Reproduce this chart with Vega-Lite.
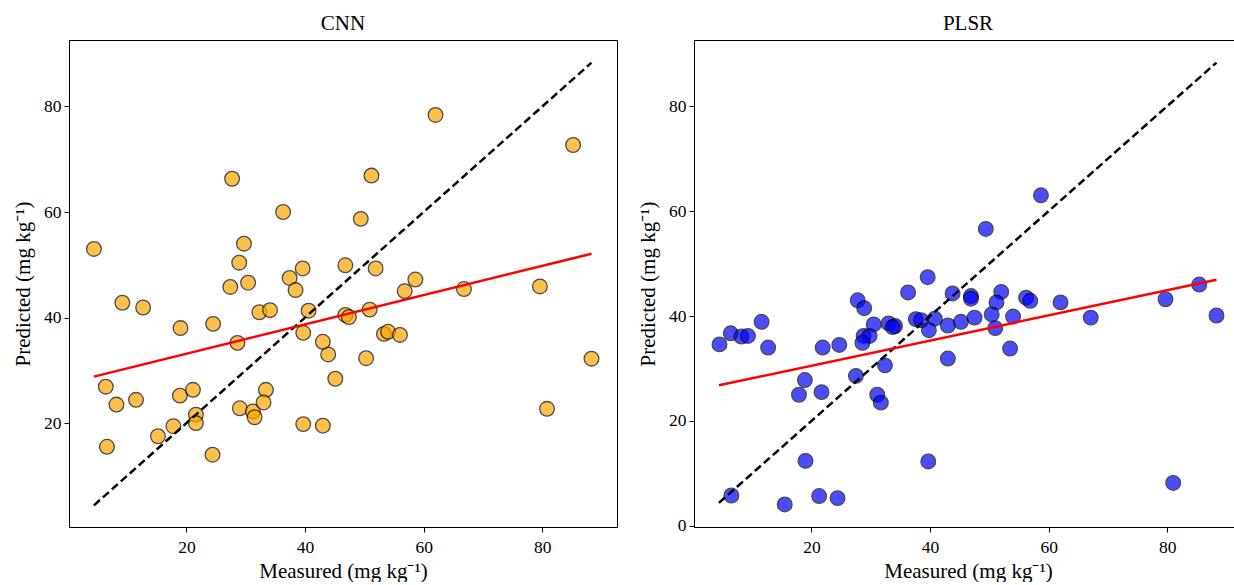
{
  "$schema": "https://vega.github.io/schema/vega-lite/v6.json",
  "padding": {"left": 12, "top": 12, "right": 0, "bottom": 0},
  "background": "white",
  "config": {
    "font": "Liberation Serif",
    "axis": {"labelFont": "Liberation Serif", "labelFontSize": 17.5, "labelColor": "black", "titleFont": "Liberation Serif", "titleFontSize": 21, "titleFontWeight": "normal", "titleColor": "black", "domainColor": "black", "tickColor": "black", "tickSize": 5, "grid": false, "labelPadding": 3, "titlePadding": 6},
    "axisX": {"labelPadding": 6, "titlePadding": 5},
    "view": {"stroke": "black", "strokeWidth": 1},
    "title": {"font": "Liberation Serif", "fontSize": 21, "fontWeight": "normal", "color": "black", "offset": 6},
    "concat": {"spacing": 77}
  },
  "bounds": "flush",
  "datasets": {
    "pts": [
      {"model": "CNN", "measured": 4.4, "predicted": 53.0},
      {"model": "CNN", "measured": 27.7, "predicted": 66.3},
      {"model": "CNN", "measured": 36.3, "predicted": 60.0},
      {"model": "CNN", "measured": 29.7, "predicted": 54.0},
      {"model": "CNN", "measured": 28.9, "predicted": 50.4},
      {"model": "CNN", "measured": 39.6, "predicted": 49.3},
      {"model": "CNN", "measured": 37.4, "predicted": 47.5},
      {"model": "CNN", "measured": 30.4, "predicted": 46.6},
      {"model": "CNN", "measured": 27.4, "predicted": 45.8},
      {"model": "CNN", "measured": 38.4, "predicted": 45.2},
      {"model": "CNN", "measured": 46.8, "predicted": 49.9},
      {"model": "CNN", "measured": 62.0, "predicted": 78.4},
      {"model": "CNN", "measured": 85.2, "predicted": 72.7},
      {"model": "CNN", "measured": 51.2, "predicted": 66.9},
      {"model": "CNN", "measured": 49.4, "predicted": 58.7},
      {"model": "CNN", "measured": 51.9, "predicted": 49.3},
      {"model": "CNN", "measured": 58.6, "predicted": 47.2},
      {"model": "CNN", "measured": 56.8, "predicted": 45.0},
      {"model": "CNN", "measured": 66.8, "predicted": 45.4},
      {"model": "CNN", "measured": 79.6, "predicted": 45.9},
      {"model": "CNN", "measured": 46.8, "predicted": 40.5},
      {"model": "CNN", "measured": 47.4, "predicted": 40.1},
      {"model": "CNN", "measured": 50.9, "predicted": 41.5},
      {"model": "CNN", "measured": 53.3, "predicted": 36.9},
      {"model": "CNN", "measured": 54.0, "predicted": 37.3},
      {"model": "CNN", "measured": 56.0, "predicted": 36.7},
      {"model": "CNN", "measured": 43.9, "predicted": 33.0},
      {"model": "CNN", "measured": 50.3, "predicted": 32.3},
      {"model": "CNN", "measured": 45.1, "predicted": 28.4},
      {"model": "CNN", "measured": 88.3, "predicted": 32.2},
      {"model": "CNN", "measured": 80.8, "predicted": 22.7},
      {"model": "CNN", "measured": 9.2, "predicted": 42.8},
      {"model": "CNN", "measured": 12.7, "predicted": 41.9},
      {"model": "CNN", "measured": 32.3, "predicted": 41.0},
      {"model": "CNN", "measured": 34.1, "predicted": 41.4},
      {"model": "CNN", "measured": 40.6, "predicted": 41.3},
      {"model": "CNN", "measured": 19.0, "predicted": 38.0},
      {"model": "CNN", "measured": 24.5, "predicted": 38.8},
      {"model": "CNN", "measured": 28.6, "predicted": 35.2},
      {"model": "CNN", "measured": 39.7, "predicted": 37.1},
      {"model": "CNN", "measured": 43.0, "predicted": 35.4},
      {"model": "CNN", "measured": 6.4, "predicted": 26.9},
      {"model": "CNN", "measured": 8.2, "predicted": 23.5},
      {"model": "CNN", "measured": 11.5, "predicted": 24.4},
      {"model": "CNN", "measured": 18.9, "predicted": 25.2},
      {"model": "CNN", "measured": 21.1, "predicted": 26.3},
      {"model": "CNN", "measured": 21.6, "predicted": 21.6},
      {"model": "CNN", "measured": 21.6, "predicted": 20.0},
      {"model": "CNN", "measured": 17.8, "predicted": 19.4},
      {"model": "CNN", "measured": 15.2, "predicted": 17.5},
      {"model": "CNN", "measured": 6.6, "predicted": 15.5},
      {"model": "CNN", "measured": 24.4, "predicted": 14.0},
      {"model": "CNN", "measured": 29.0, "predicted": 22.8},
      {"model": "CNN", "measured": 31.2, "predicted": 22.2},
      {"model": "CNN", "measured": 31.5, "predicted": 21.1},
      {"model": "CNN", "measured": 33.4, "predicted": 26.3},
      {"model": "CNN", "measured": 33.0, "predicted": 23.9},
      {"model": "CNN", "measured": 39.7, "predicted": 19.8},
      {"model": "CNN", "measured": 43.0, "predicted": 19.5},
      {"model": "PLSR", "measured": 4.5, "predicted": 34.6},
      {"model": "PLSR", "measured": 6.4, "predicted": 36.7},
      {"model": "PLSR", "measured": 8.2, "predicted": 36.1},
      {"model": "PLSR", "measured": 9.3, "predicted": 36.2},
      {"model": "PLSR", "measured": 11.6, "predicted": 38.9},
      {"model": "PLSR", "measured": 12.7, "predicted": 34.0},
      {"model": "PLSR", "measured": 21.9, "predicted": 34.0},
      {"model": "PLSR", "measured": 24.7, "predicted": 34.5},
      {"model": "PLSR", "measured": 18.9, "predicted": 27.8},
      {"model": "PLSR", "measured": 17.9, "predicted": 25.0},
      {"model": "PLSR", "measured": 21.7, "predicted": 25.5},
      {"model": "PLSR", "measured": 27.5, "predicted": 28.6},
      {"model": "PLSR", "measured": 27.8, "predicted": 43.0},
      {"model": "PLSR", "measured": 28.9, "predicted": 41.5},
      {"model": "PLSR", "measured": 36.3, "predicted": 44.5},
      {"model": "PLSR", "measured": 39.6, "predicted": 47.4},
      {"model": "PLSR", "measured": 30.5, "predicted": 38.4},
      {"model": "PLSR", "measured": 28.8, "predicted": 36.2},
      {"model": "PLSR", "measured": 29.8, "predicted": 36.2},
      {"model": "PLSR", "measured": 28.6, "predicted": 34.9},
      {"model": "PLSR", "measured": 33.0, "predicted": 38.6},
      {"model": "PLSR", "measured": 34.1, "predicted": 38.1},
      {"model": "PLSR", "measured": 33.7, "predicted": 37.9},
      {"model": "PLSR", "measured": 32.4, "predicted": 30.6},
      {"model": "PLSR", "measured": 31.1, "predicted": 25.0},
      {"model": "PLSR", "measured": 31.7, "predicted": 23.5},
      {"model": "PLSR", "measured": 37.6, "predicted": 39.4},
      {"model": "PLSR", "measured": 38.5, "predicted": 39.2},
      {"model": "PLSR", "measured": 40.8, "predicted": 39.5},
      {"model": "PLSR", "measured": 39.8, "predicted": 37.3},
      {"model": "PLSR", "measured": 43.0, "predicted": 38.2},
      {"model": "PLSR", "measured": 45.2, "predicted": 38.9},
      {"model": "PLSR", "measured": 43.0, "predicted": 31.9},
      {"model": "PLSR", "measured": 43.8, "predicted": 44.3},
      {"model": "PLSR", "measured": 46.9, "predicted": 43.8},
      {"model": "PLSR", "measured": 46.9, "predicted": 43.3},
      {"model": "PLSR", "measured": 47.5, "predicted": 39.7},
      {"model": "PLSR", "measured": 52.0, "predicted": 44.6},
      {"model": "PLSR", "measured": 51.2, "predicted": 42.6},
      {"model": "PLSR", "measured": 56.2, "predicted": 43.5},
      {"model": "PLSR", "measured": 56.9, "predicted": 42.9},
      {"model": "PLSR", "measured": 62.0, "predicted": 42.6},
      {"model": "PLSR", "measured": 79.7, "predicted": 43.2},
      {"model": "PLSR", "measured": 85.4, "predicted": 46.0},
      {"model": "PLSR", "measured": 88.3, "predicted": 40.1},
      {"model": "PLSR", "measured": 50.4, "predicted": 40.3},
      {"model": "PLSR", "measured": 54.0, "predicted": 39.9},
      {"model": "PLSR", "measured": 51.0, "predicted": 37.7},
      {"model": "PLSR", "measured": 67.1, "predicted": 39.7},
      {"model": "PLSR", "measured": 53.5, "predicted": 33.8},
      {"model": "PLSR", "measured": 81.0, "predicted": 8.2},
      {"model": "PLSR", "measured": 58.7, "predicted": 63.0},
      {"model": "PLSR", "measured": 49.4, "predicted": 56.6},
      {"model": "PLSR", "measured": 19.0, "predicted": 12.4},
      {"model": "PLSR", "measured": 39.7, "predicted": 12.3},
      {"model": "PLSR", "measured": 6.5, "predicted": 5.8},
      {"model": "PLSR", "measured": 15.5, "predicted": 4.1},
      {"model": "PLSR", "measured": 21.3, "predicted": 5.7},
      {"model": "PLSR", "measured": 24.4, "predicted": 5.3}
    ],
    "lines": [
      {"model": "CNN", "kind": "ideal", "measured": 4.4, "predicted": 4.4},
      {"model": "CNN", "kind": "ideal", "measured": 88.3, "predicted": 88.3},
      {"model": "CNN", "kind": "fit", "measured": 4.4, "predicted": 28.8},
      {"model": "CNN", "kind": "fit", "measured": 88.3, "predicted": 52.1},
      {"model": "PLSR", "kind": "ideal", "measured": 4.4, "predicted": 4.4},
      {"model": "PLSR", "kind": "ideal", "measured": 88.3, "predicted": 88.3},
      {"model": "PLSR", "kind": "fit", "measured": 4.4, "predicted": 26.8},
      {"model": "PLSR", "kind": "fit", "measured": 88.3, "predicted": 46.9}
    ]
  },
  "hconcat": [
    {
      "width": 548,
      "height": 487,
      "title": "CNN",
      "layer": [
        {
          "data": {"name": "pts"},
          "transform": [{"filter": "datum.model === 'CNN'"}],
          "mark": {"type": "point", "filled": true, "fill": "#FFA500", "stroke": "black", "strokeWidth": 1.3, "opacity": 0.7, "size": 215},
          "encoding": {
            "x": {"field": "measured", "type": "quantitative", "scale": {"domain": [0.2, 92.6], "nice": false, "zero": false}, "axis": {"values": [20, 40, 60, 80], "title": "Measured (mg kg⁻¹)"}},
            "y": {"field": "predicted", "type": "quantitative", "scale": {"domain": [0.3, 92.6], "nice": false, "zero": false}, "axis": {"values": [20, 40, 60, 80], "title": "Predicted (mg kg⁻¹)", "titlePadding": 10}}
          }
        },
        {
          "data": {"name": "lines"},
          "transform": [{"filter": "datum.model === 'CNN' && datum.kind === 'ideal'"}],
          "mark": {"type": "line", "color": "black", "strokeWidth": 2.5, "strokeDash": [8, 4]},
          "encoding": {"x": {"field": "measured", "type": "quantitative"}, "y": {"field": "predicted", "type": "quantitative"}}
        },
        {
          "data": {"name": "lines"},
          "transform": [{"filter": "datum.model === 'CNN' && datum.kind === 'fit'"}],
          "mark": {"type": "line", "color": "red", "strokeWidth": 2.5},
          "encoding": {"x": {"field": "measured", "type": "quantitative"}, "y": {"field": "predicted", "type": "quantitative"}}
        }
      ]
    },
    {
      "width": 548,
      "height": 487,
      "title": "PLSR",
      "layer": [
        {
          "data": {"name": "pts"},
          "transform": [{"filter": "datum.model === 'PLSR'"}],
          "mark": {"type": "point", "filled": true, "fill": "blue", "stroke": "black", "strokeWidth": 1.3, "opacity": 0.7, "size": 215},
          "encoding": {
            "x": {"field": "measured", "type": "quantitative", "scale": {"domain": [0.2, 92.6], "nice": false, "zero": false}, "axis": {"values": [20, 40, 60, 80], "title": "Measured (mg kg⁻¹)"}},
            "y": {"field": "predicted", "type": "quantitative", "scale": {"domain": [-0.2, 92.6], "nice": false, "zero": false}, "axis": {"values": [0, 20, 40, 60, 80], "title": "Predicted (mg kg⁻¹)", "titlePadding": 10}}
          }
        },
        {
          "data": {"name": "lines"},
          "transform": [{"filter": "datum.model === 'PLSR' && datum.kind === 'ideal'"}],
          "mark": {"type": "line", "color": "black", "strokeWidth": 2.5, "strokeDash": [8, 4]},
          "encoding": {"x": {"field": "measured", "type": "quantitative"}, "y": {"field": "predicted", "type": "quantitative"}}
        },
        {
          "data": {"name": "lines"},
          "transform": [{"filter": "datum.model === 'PLSR' && datum.kind === 'fit'"}],
          "mark": {"type": "line", "color": "red", "strokeWidth": 2.5},
          "encoding": {"x": {"field": "measured", "type": "quantitative"}, "y": {"field": "predicted", "type": "quantitative"}}
        }
      ]
    }
  ]
}
